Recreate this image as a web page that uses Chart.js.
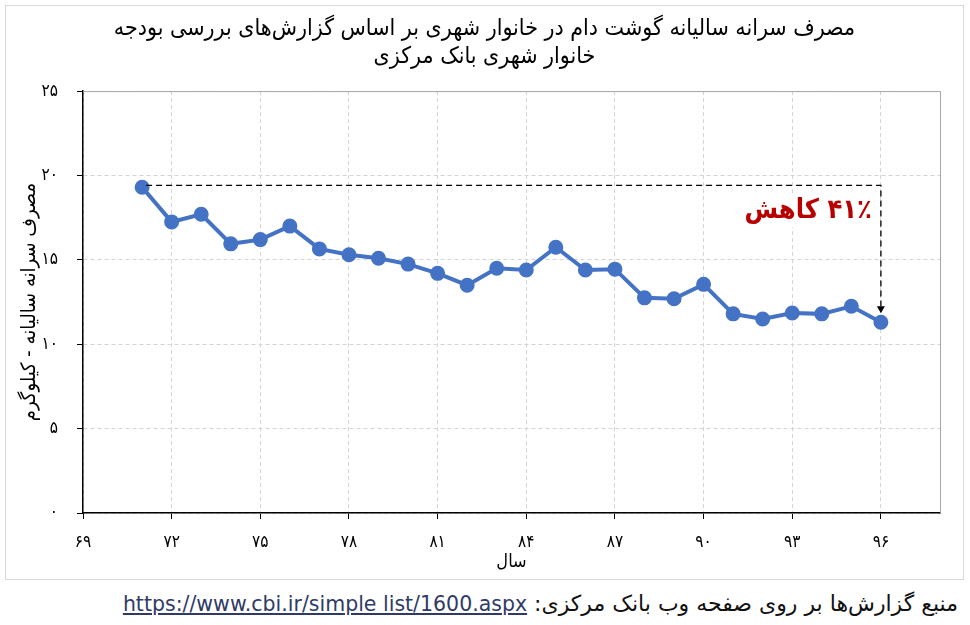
<!DOCTYPE html>
<html>
<head>
<meta charset="utf-8">
<script src="https://cdn.jsdelivr.net/npm/chart.js@4"></script>
<style>
  body { margin: 0; background: #fff; width: 970px; height: 625px; position: relative; overflow: hidden; }
  #frame { position: absolute; left: 5px; top: 5px; width: 957px; height: 573px; border: 1px solid #d9d9d9; }
  #footer { position: absolute; right: 12px; top: 591px; direction: rtl; font-family: "DejaVu Sans", sans-serif; font-size: 22px; color: #111; white-space: nowrap; }
  #footer a { color: #2f3b66; text-decoration: underline; font-family: "DejaVu Sans", sans-serif; font-size: 20.5px; }
</style>
</head>
<body>
<div id="frame"><canvas id="meatChart" width="957" height="573"></canvas></div>
<div id="footer">منبع گزارش‌ها بر روی صفحه وب بانک مرکزی: <a>https://www.cbi.ir/simple list/1600.aspx</a></div>
<script>
// years (solar hijri, 13xx) and per-capita red meat consumption, kg
const years = [71, 72, 73, 74, 75, 76, 77, 78, 79, 80, 81, 82, 83, 84, 85, 86, 87, 88, 89, 90, 91, 92, 93, 94, 95, 96];
const consumption = [19.3, 17.25, 17.7, 15.95, 16.2, 17.0, 15.65, 15.3, 15.1, 14.75, 14.2, 13.5, 14.5, 14.4,
    15.75, 14.4, 14.45, 12.75, 12.7, 13.55, 11.8, 11.5, 11.85, 11.8, 12.25, 11.3];
const xTicks = [69, 72, 75, 78, 81, 84, 87, 90, 93, 96];
const yTicks = [0, 5, 10, 15, 20, 25];

const titleLines = ['مصرف سرانه سالیانه گوشت دام در خانوار شهری بر اساس گزارش‌های بررسی بودجه', 'خانوار شهری بانک مرکزی'];
const yTitle = 'مصرف سرانه سالیانه - کیلوگرم';
const xTitle = 'سال';
const dropLabel = '۴۱٪ کاهش';

const faFont = '"DejaVu Sans Condensed", "DejaVu Sans", sans-serif';

// convert latin digits to persian digits
function toFa(n) {
    return String(n).replace(/\d/g, d => '۰۱۲۳۴۵۶۷۸۹'[d]);
}

// draws the gray top/right frame of the plot and the dashed "drop" arrow
const dropArrow = {
    id: 'dropArrow',
    afterDatasetsDraw(chart) {
        const { ctx, chartArea, scales } = chart;
        const x0 = scales.x.getPixelForValue(years[0]);
        const y0 = scales.y.getPixelForValue(consumption[0]) - 2;
        const last = years.length - 1;
        const x1 = scales.x.getPixelForValue(years[last]);
        const y1 = scales.y.getPixelForValue(consumption[last]) - 9;

        ctx.save();
        // plot frame (top + right)
        ctx.strokeStyle = '#a6a6a6';
        ctx.lineWidth = 1;
        ctx.beginPath();
        ctx.moveTo(chartArea.left, chartArea.top + 0.5);
        ctx.lineTo(chartArea.right + 0.5, chartArea.top + 0.5);
        ctx.lineTo(chartArea.right + 0.5, chartArea.bottom);
        ctx.stroke();

        // dashed elbow line
        ctx.strokeStyle = '#000';
        ctx.lineWidth = 1.3;
        ctx.setLineDash([6, 4]);
        ctx.beginPath();
        ctx.moveTo(x0 + 4, y0);
        ctx.lineTo(x1, y0);
        ctx.lineTo(x1, y1 - 6);
        ctx.stroke();
        ctx.setLineDash([]);
        ctx.fillStyle = '#000';
        ctx.beginPath();
        ctx.moveTo(x1 - 4, y1 - 7);
        ctx.lineTo(x1 + 4, y1 - 7);
        ctx.lineTo(x1, y1);
        ctx.closePath();
        ctx.fill();

        // label
        ctx.font = 'bold 27px ' + faFont;
        ctx.direction = 'rtl';
        ctx.textAlign = 'right';
        ctx.textBaseline = 'middle';
        const ty = y0 + 26;
        const w = ctx.measureText(dropLabel).width;
        ctx.fillStyle = '#fff';
        ctx.fillRect(x1 - 10 - w - 2, ty - 16, w + 6, 32);
        ctx.fillStyle = '#b80000';
        ctx.fillText(dropLabel, x1 - 9, ty);
        ctx.restore();
    }
};

document.addEventListener('DOMContentLoaded', function () {
    const ctx = document.getElementById('meatChart').getContext('2d');
    new Chart(ctx, {
        type: 'line',
        data: {
            datasets: [{
                data: years.map((y, i) => ({ x: y, y: consumption[i] })),
                borderColor: '#4472c4',
                backgroundColor: '#4472c4',
                borderWidth: 4,
                pointRadius: 5.5,
                pointHoverRadius: 5.5,
                tension: 0
            }]
        },
        options: {
            responsive: false,
            animation: false,
            layout: { padding: { left: 23, right: 23, top: 0, bottom: 0 } },
            plugins: {
                legend: { display: false },
                tooltip: { enabled: false },
                title: {
                    display: true,
                    text: titleLines,
                    color: '#000',
                    font: { family: faFont, size: 23, weight: 'normal', lineHeight: 1.22 },
                    padding: { top: 9, bottom: 20 }
                }
            },
            scales: {
                x: {
                    type: 'linear',
                    min: 69,
                    max: 98,
                    afterBuildTicks: scale => { scale.ticks = xTicks.map(v => ({ value: v })); },
                    afterFit: scale => { scale.height = 66; },
                    ticks: {
                        callback: v => toFa(v),
                        color: '#000',
                        font: { family: faFont, size: 17 },
                        padding: 13,
                        maxRotation: 0
                    },
                    grid: { color: '#d4d4d4', tickColor: '#000', tickLength: 6, lineWidth: 1 },
                    border: { color: '#000', width: 1.5, dash: [4, 3] },
                    title: {
                        display: true,
                        text: xTitle,
                        color: '#000',
                        font: { family: faFont, size: 18 },
                        padding: { top: 0, bottom: 6 }
                    }
                },
                y: {
                    min: 0,
                    max: 25,
                    afterBuildTicks: scale => { scale.ticks = yTicks.map(v => ({ value: v })); },
                    afterFit: scale => { scale.width = 54; },
                    ticks: {
                        callback: v => toFa(v),
                        color: '#000',
                        font: { family: faFont, size: 17 },
                        padding: 19
                    },
                    grid: { color: '#d4d4d4', tickColor: '#000', tickLength: 6, lineWidth: 1 },
                    border: { color: '#000', width: 1.5, dash: [4, 3] },
                    title: {
                        display: true,
                        text: yTitle,
                        color: '#000',
                        font: { family: faFont, size: 20 },
                        padding: { top: -11, bottom: 0 }
                    }
                }
            }
        },
        plugins: [dropArrow]
    });
});
</script>
</body>
</html>
